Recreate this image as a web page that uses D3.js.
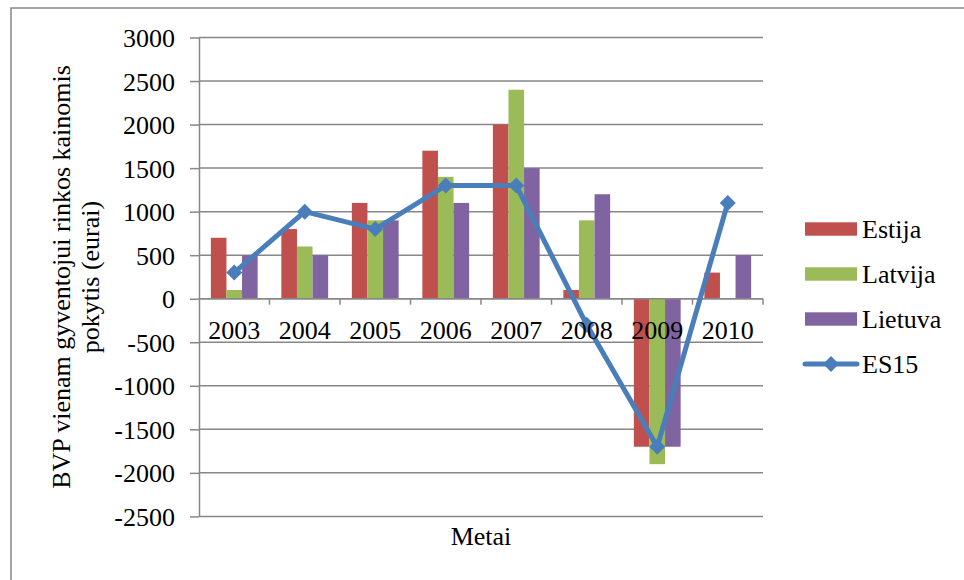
<!DOCTYPE html>
<html>
<head>
<meta charset="utf-8">
<script src="https://cdn.jsdelivr.net/npm/d3@7"></script>
<style>
  html, body { margin: 0; padding: 0; background: #fff; }
  svg { display: block; }
  text { font-family: "Liberation Serif", "Times New Roman", serif; fill: #000; }
</style>
</head>
<body>
<svg id="chart" width="964" height="580"></svg>
<script>
// Years on the category axis
const years = ["2003", "2004", "2005", "2006", "2007", "2008", "2009", "2010"];
// Change of GDP per capita at market prices (euro)
const estija  = [700, 800, 1100, 1700, 2000, 100, -1700, 300];
const latvija = [100, 600, 900, 1400, 2400, 900, -1900, 0];
const lietuva = [500, 500, 900, 1100, 1500, 1200, -1700, 500];
const es15    = [300, 1000, 800, 1300, 1300, -300, -1700, 1100];
// Value axis ticks
const yTicks = [3000, 2500, 2000, 1500, 1000, 500, 0, -500, -1000, -1500, -2000, -2500];

const barSeries = [
  { name: "Estija", values: estija, color: "#C0504D" },
  { name: "Latvija", values: latvija, color: "#9BBB59" },
  { name: "Lietuva", values: lietuva, color: "#8064A2" }
];
const lineColor = "#4A7EBB";
const gridColor = "#878787";
const fontSize = 26;
const serif = '"Liberation Serif", "Times New Roman", serif';

const svg = d3.select("#chart");

// Outer chart frame
svg.append("rect")
  .attr("x", 11).attr("y", 8)
  .attr("width", 1000).attr("height", 620)
  .attr("fill", "none").attr("stroke", gridColor).attr("stroke-width", 1.5);

const plot = { left: 199, right: 763, top: 37.5, bottom: 516.4 };

const y = d3.scaleLinear().domain([-2500, 3000]).range([plot.bottom, plot.top]);
const x0 = d3.scaleBand().domain(years).range([plot.left, plot.right]).paddingInner(0).paddingOuter(0);
const x1 = d3.scaleBand().domain(barSeries.map(s => s.name)).range([0, x0.bandwidth()])
  .paddingInner(0).paddingOuter(0.76);

// Horizontal gridlines
svg.append("g").selectAll("line").data(yTicks).join("line")
  .attr("x1", plot.left).attr("x2", plot.right)
  .attr("y1", d => y(d)).attr("y2", d => y(d))
  .attr("stroke", gridColor).attr("stroke-width", 1.5);

// Value axis
const yAxis = svg.append("g")
  .attr("transform", `translate(${plot.left},0)`)
  .call(d3.axisLeft(y).tickValues(yTicks).tickSize(9).tickSizeOuter(0).tickPadding(15)
    .tickFormat(d => String(d)))
  .attr("font-family", serif)
  .attr("font-size", fontSize);
yAxis.select(".domain").attr("stroke", gridColor).attr("stroke-width", 1.5);
yAxis.selectAll(".tick line").attr("stroke", gridColor).attr("stroke-width", 1.5);
yAxis.selectAll(".tick text")
  .attr("font-family", serif)
  .attr("fill", "#000")
  .attr("dy", "0.35em");

// Bars
barSeries.forEach(s => {
  svg.append("g").selectAll("rect").data(years).join("rect")
    .attr("x", (d) => x0(d) + x1(s.name))
    .attr("width", x1.bandwidth())
    .attr("y", (d, i) => y(Math.max(0, s.values[i])))
    .attr("height", (d, i) => Math.abs(y(s.values[i]) - y(0)))
    .attr("fill", s.color);
});

// Category axis along zero
const y0 = y(0);
const catAxis = svg.append("g");
catAxis.append("line")
  .attr("x1", plot.left).attr("x2", plot.right)
  .attr("y1", y0).attr("y2", y0)
  .attr("stroke", gridColor).attr("stroke-width", 1.5);
const bounds = years.map(d => x0(d)).concat([plot.right]);
catAxis.selectAll("line.tk").data(bounds.slice(1)).join("line")
  .attr("class", "tk")
  .attr("x1", d => d).attr("x2", d => d)
  .attr("y1", y0).attr("y2", y0 + 6)
  .attr("stroke", gridColor).attr("stroke-width", 1.5);

// ES15 line with diamond markers
const line = d3.line()
  .x((d, i) => x0(years[i]) + x0.bandwidth() / 2)
  .y(d => y(d));
svg.append("path")
  .datum(es15)
  .attr("d", line)
  .attr("fill", "none")
  .attr("stroke", lineColor)
  .attr("stroke-width", 5)
  .attr("stroke-linejoin", "round");
const diamond = d3.symbol().type(d3.symbolSquare).size(128);
svg.append("g").selectAll("path").data(es15).join("path")
  .attr("d", diamond)
  .attr("transform", (d, i) => `translate(${x0(years[i]) + x0.bandwidth() / 2},${y(d)}) rotate(45)`)
  .attr("fill", lineColor);

// Category labels (drawn above the series)
svg.append("g").selectAll("text").data(years).join("text")
  .attr("x", d => x0(d) + x0.bandwidth() / 2)
  .attr("y", y0 + 40.5)
  .attr("text-anchor", "middle")
  .style("font-size", fontSize + "px")
  .text(d => d);

// Axis titles
svg.append("text")
  .attr("x", (plot.left + plot.right) / 2)
  .attr("y", 545)
  .attr("text-anchor", "middle")
  .style("font-size", fontSize + "px")
  .text("Metai");

const yTitle = svg.append("text")
  .attr("transform", "translate(70,277) rotate(-90)")
  .attr("text-anchor", "middle")
  .style("font-size", fontSize + "px");
yTitle.append("tspan").attr("x", 0).attr("y", 0).text("BVP vienam gyventojui rinkos kainomis");
yTitle.append("tspan").attr("x", 0).attr("y", 29).text("pokytis (eurai)");

// Legend
const legendRows = [
  { name: "Estija", color: "#C0504D", type: "bar" },
  { name: "Latvija", color: "#9BBB59", type: "bar" },
  { name: "Lietuva", color: "#8064A2", type: "bar" },
  { name: "ES15", color: lineColor, type: "line" }
];
const legend = svg.append("g");
legendRows.forEach((r, i) => {
  const cy = 229 + i * 45;
  if (r.type === "bar") {
    legend.append("rect")
      .attr("x", 805).attr("y", cy - 6.7)
      .attr("width", 52).attr("height", 13.4)
      .attr("fill", r.color);
  } else {
    legend.append("line")
      .attr("x1", 805).attr("x2", 857)
      .attr("y1", cy).attr("y2", cy)
      .attr("stroke", r.color).attr("stroke-width", 5)
      .attr("stroke-linecap", "round");
    legend.append("path")
      .attr("d", diamond)
      .attr("transform", `translate(831,${cy}) rotate(45)`)
      .attr("fill", r.color);
  }
  legend.append("text")
    .attr("x", 862).attr("y", cy + 8.5)
    .style("font-size", fontSize + "px")
    .text(r.name);
});
</script>
</body>
</html>
